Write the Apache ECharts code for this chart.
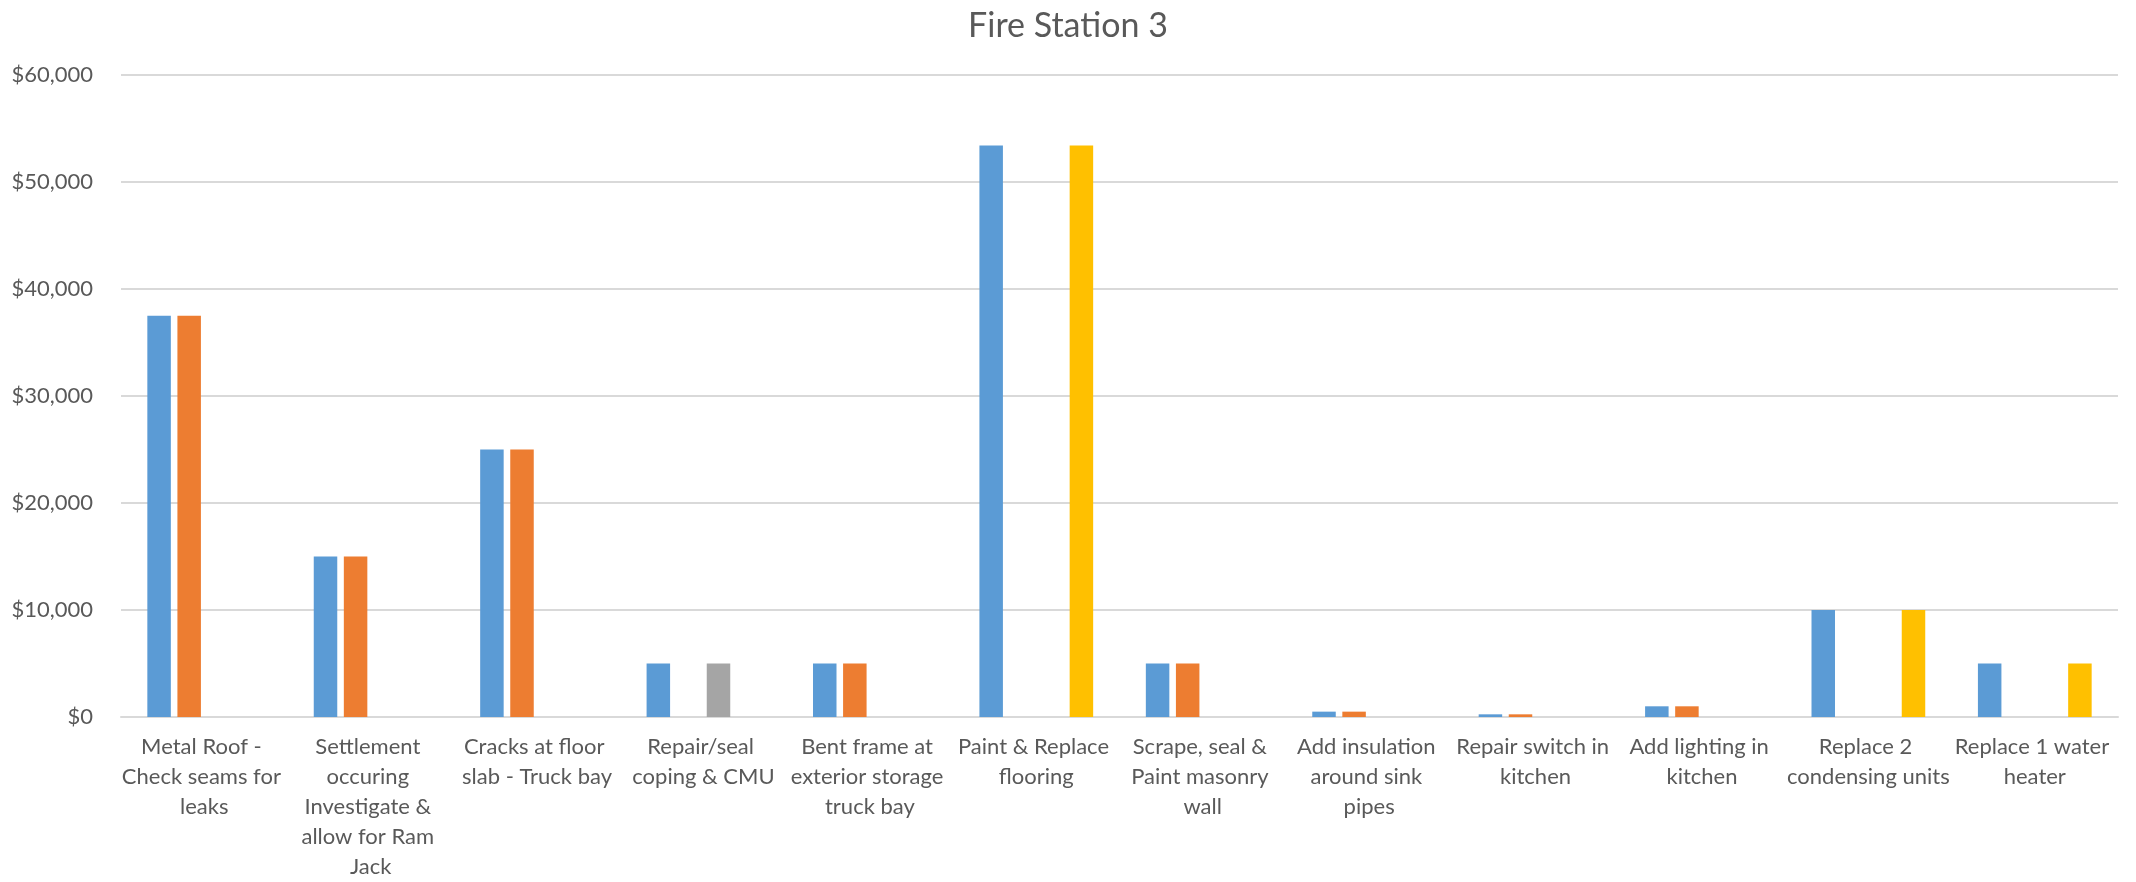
<!DOCTYPE html>
<html>
<head>
<meta charset="utf-8">
<title>Fire Station 3</title>
<script src="https://cdn.jsdelivr.net/npm/echarts@6/dist/echarts.min.js"></script>
<style>
  html, body { margin: 0; padding: 0; background: #ffffff; }
  #chart { width: 2136px; height: 882px; }
</style>
</head>
<body>
<div id="chart"></div>
<script>
// Repair items for Fire Station 3
const categories = [
  'Metal Roof - Check seams for leaks',
  'Settlement occuring Investigate & allow for Ram Jack',
  'Cracks at floor slab - Truck bay',
  'Repair/seal coping & CMU',
  'Bent frame at exterior storage truck bay',
  'Paint & Replace flooring',
  'Scrape, seal & Paint masonry wall',
  'Add insulation around sink pipes',
  'Repair switch in kitchen',
  'Add lighting in kitchen',
  'Replace 2 condensing units',
  'Replace 1 water heater'
];

// Cost per item (USD); null where an item has no amount in that column
const totalCost   = [37500, 15000, 25000, 5000, 5000, 53400, 5000, 500, 250, 1000, 10000, 5000];
const phaseOne    = [37500, 15000, 25000, null, 5000, null, 5000, 500, 250, 1000, null, null];
const phaseTwo    = [null, null, null, 5000, null, null, null, null, null, null, null, null];
const phaseThree  = [null, null, null, null, null, 53400, null, null, null, null, 10000, 5000];

const yTicks = [0, 10000, 20000, 30000, 40000, 50000, 60000];

const textColor = '#595959';
const gridColor = '#D9D9D9';
const fontFamily = 'Lato, "Noto Sans", sans-serif';

const chart = echarts.init(document.getElementById('chart'), null, { renderer: 'canvas' });

function barSeries(name, data, color) {
  return {
    name: name,
    type: 'bar',
    data: data,
    barWidth: 23.5,
    barGap: '28%',
    itemStyle: { color: color },
    emphasis: { disabled: true }
  };
}

chart.setOption({
  backgroundColor: '#ffffff',
  animation: false,
  title: {
    text: 'Fire Station 3',
    left: 'center',
    top: 4,
    textStyle: { color: textColor, fontSize: 34, fontWeight: 'normal', fontFamily: fontFamily }
  },
  grid: { left: 121, right: 18, top: 75, bottom: 159 },
  xAxis: {
    type: 'category',
    data: categories,
    axisLine: { show: true, lineStyle: { color: gridColor, width: 2 } },
    axisTick: { show: false },
    axisLabel: {
      interval: 0,
      color: textColor,
      fontSize: 22,
      fontFamily: fontFamily,
      lineHeight: 30,
      margin: 15,
      width: 168,
      overflow: 'break',
      align: 'center'
    }
  },
  yAxis: {
    type: 'value',
    min: yTicks[0],
    max: yTicks[yTicks.length - 1],
    interval: yTicks[1] - yTicks[0],
    axisLine: { show: false },
    axisTick: { show: false },
    splitLine: { lineStyle: { color: gridColor, width: 2 } },
    axisLabel: {
      color: textColor,
      fontSize: 22,
      fontFamily: fontFamily,
      margin: 28,
      formatter: function (v) { return '$' + v.toLocaleString('en-US'); }
    }
  },
  series: [
    barSeries('Total', totalCost, '#5B9BD5'),
    barSeries('Phase 1', phaseOne, '#ED7D31'),
    barSeries('Phase 2', phaseTwo, '#A5A5A5'),
    barSeries('Phase 3', phaseThree, '#FFC000')
  ]
});
</script>
</body>
</html>
